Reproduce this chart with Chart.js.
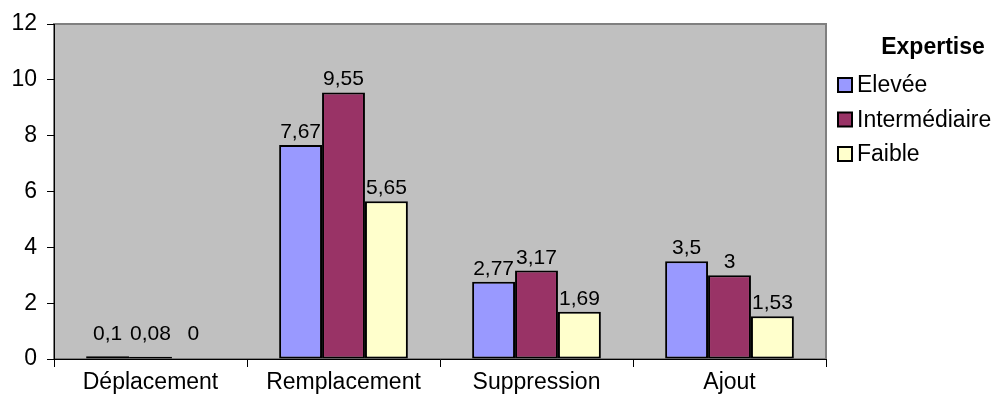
<!DOCTYPE html>
<html>
<head>
<meta charset="utf-8">
<script src="https://cdn.jsdelivr.net/npm/chart.js@4/dist/chart.umd.min.js"></script>
<style>
  html, body { margin: 0; padding: 0; background: #ffffff; }
  #wrap { width: 1008px; height: 405px; position: relative; }
</style>
</head>
<body>
<div id="wrap"><canvas id="c"></canvas></div>
<script>
// Categories, series and axis ticks
const categories = ['Déplacement', 'Remplacement', 'Suppression', 'Ajout'];
const seriesNames = ['Elevée', 'Intermédiaire', 'Faible'];
const elevee = [0.1, 7.67, 2.77, 3.5];
const intermediaire = [0.08, 9.55, 3.17, 3];
const faible = [0, 5.65, 1.69, 1.53];
const yTicks = [0, 2, 4, 6, 8, 10, 12];
const legendTitle = 'Expertise';

const seriesColors = ['#9999FF', '#993366', '#FFFFCC'];
const FONT = '"Liberation Sans", Arial, sans-serif';

function fmt(v) { return String(v).replace('.', ','); }

// Grey plot area with a grey frame
const plotBackground = {
  id: 'plotBackground',
  beforeDraw(chart) {
    const { ctx, chartArea: a } = chart;
    ctx.save();
    ctx.fillStyle = '#C0C0C0';
    ctx.fillRect(a.left, a.top, a.right - a.left, a.bottom - a.top);
    ctx.strokeStyle = '#808080';
    ctx.lineWidth = 2;
    ctx.strokeRect(a.left, a.top, a.right - a.left, a.bottom - a.top);
    ctx.restore();
  }
};

// Value labels above each bar; labels of very short bars stay clear of the axis
const valueLabels = {
  id: 'valueLabels',
  afterDatasetsDraw(chart) {
    const { ctx } = chart;
    const base = chart.scales.y.getPixelForValue(0);
    ctx.save();
    ctx.font = '21px ' + FONT;
    ctx.fillStyle = '#000000';
    ctx.textAlign = 'center';
    ctx.textBaseline = 'alphabetic';
    chart.data.datasets.forEach((ds, i) => {
      const meta = chart.getDatasetMeta(i);
      meta.data.forEach((bar, j) => {
        const y = Math.min(bar.y - 7, base - 19);
        ctx.fillText(fmt(ds.data[j]), bar.x, y);
      });
    });
    ctx.restore();
  }
};

// Legend block on the right
const sideLegend = {
  id: 'sideLegend',
  afterDraw(chart) {
    const { ctx } = chart;
    ctx.save();
    ctx.fillStyle = '#000000';
    ctx.textBaseline = 'middle';
    ctx.textAlign = 'center';
    ctx.font = 'bold 23px ' + FONT;
    ctx.fillText(legendTitle, 933, 48);
    ctx.textAlign = 'left';
    ctx.font = '23px ' + FONT;
    chart.data.datasets.forEach((ds, i) => {
      const y = 85 + i * 34.5;
      ctx.fillStyle = ds.backgroundColor;
      ctx.fillRect(838, y - 7, 14, 14);
      ctx.strokeStyle = '#000000';
      ctx.lineWidth = 2;
      ctx.strokeRect(838, y - 7, 14, 14);
      ctx.fillStyle = '#000000';
      ctx.fillText(ds.label, 857, y + 1);
    });
    ctx.restore();
  }
};

const seriesData = [elevee, intermediaire, faible];

new Chart(document.getElementById('c'), {
  type: 'bar',
  data: {
    labels: categories,
    datasets: seriesNames.map((name, i) => ({
      label: name,
      data: seriesData[i],
      backgroundColor: seriesColors[i],
      borderColor: '#000000',
      borderWidth: 2,
      borderSkipped: false,
      categoryPercentage: 0.667,
      barPercentage: 1.0
    }))
  },
  options: {
    responsive: true,
    maintainAspectRatio: false,
    animation: false,
    layout: { padding: { top: 24, right: 182, bottom: 0, left: 0 } },
    plugins: {
      legend: { display: false },
      tooltip: { enabled: false }
    },
    scales: {
      x: {
        afterFit(scale) { scale.height = 46; },
        grid: { offset: true, drawOnChartArea: false, drawTicks: true, tickLength: 8, color: '#000000', lineWidth: 1 },
        border: { display: true, color: '#000000', width: 1 },
        ticks: { color: '#000000', font: { family: FONT, size: 23 }, padding: 2, maxRotation: 0 }
      },
      y: {
        min: 0,
        max: 12,
        afterFit(scale) { scale.width = 54; },
        afterBuildTicks(scale) { scale.ticks = yTicks.map(v => ({ value: v })); },
        grid: { drawOnChartArea: false, drawTicks: true, tickLength: 7, color: '#000000', lineWidth: 1 },
        border: { display: true, color: '#000000', width: 1 },
        ticks: { color: '#000000', font: { family: FONT, size: 23 }, padding: 10 }
      }
    }
  },
  plugins: [plotBackground, valueLabels, sideLegend]
});
</script>
</body>
</html>
